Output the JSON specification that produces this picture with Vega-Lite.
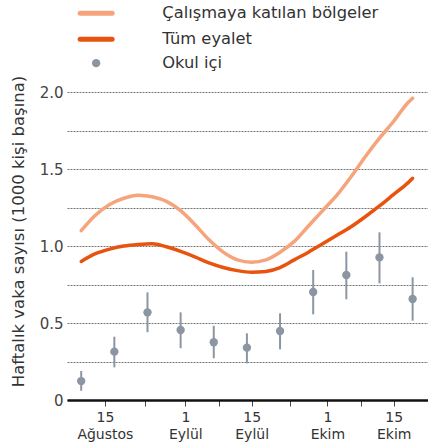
{
  "$schema": "https://vega.github.io/schema/vega-lite/v6.json",
  "autosize": "none",
  "width": 361,
  "height": 308,
  "padding": {"left": 67, "top": 92, "right": 0, "bottom": 48},
  "background": "white",
  "config": {
    "view": {"stroke": null},
    "font": "DejaVu Sans",
    "axisY": {
      "titleFontSize": 16.5,
      "titleFontWeight": "normal",
      "titleColor": "#333333",
      "titlePadding": 13,
      "titleY": 139,
      "labelFontSize": 15,
      "labelColor": "#444444",
      "labelPadding": 4,
      "labelOverlap": false,
      "ticks": false,
      "tickSize": 0,
      "domain": false,
      "grid": true,
      "gridColor": "#777777",
      "gridDash": [2, 1],
      "gridWidth": 1
    }
  },
  "datasets": {
    "lines": [
      {"date": "2020-08-10T00:00", "series": "Çalışmaya katılan bölgeler", "value": 1.10},
      {"date": "2020-08-13T00:00", "series": "Çalışmaya katılan bölgeler", "value": 1.20},
      {"date": "2020-08-16T00:00", "series": "Çalışmaya katılan bölgeler", "value": 1.27},
      {"date": "2020-08-19T00:00", "series": "Çalışmaya katılan bölgeler", "value": 1.31},
      {"date": "2020-08-22T00:00", "series": "Çalışmaya katılan bölgeler", "value": 1.33},
      {"date": "2020-08-25T00:00", "series": "Çalışmaya katılan bölgeler", "value": 1.32},
      {"date": "2020-08-28T00:00", "series": "Çalışmaya katılan bölgeler", "value": 1.29},
      {"date": "2020-08-31T00:00", "series": "Çalışmaya katılan bölgeler", "value": 1.23},
      {"date": "2020-09-03T00:00", "series": "Çalışmaya katılan bölgeler", "value": 1.14},
      {"date": "2020-09-06T00:00", "series": "Çalışmaya katılan bölgeler", "value": 1.04},
      {"date": "2020-09-09T00:00", "series": "Çalışmaya katılan bölgeler", "value": 0.96},
      {"date": "2020-09-12T00:00", "series": "Çalışmaya katılan bölgeler", "value": 0.91},
      {"date": "2020-09-15T00:00", "series": "Çalışmaya katılan bölgeler", "value": 0.895},
      {"date": "2020-09-18T00:00", "series": "Çalışmaya katılan bölgeler", "value": 0.91},
      {"date": "2020-09-21T00:00", "series": "Çalışmaya katılan bölgeler", "value": 0.96},
      {"date": "2020-09-24T00:00", "series": "Çalışmaya katılan bölgeler", "value": 1.03},
      {"date": "2020-09-27T00:00", "series": "Çalışmaya katılan bölgeler", "value": 1.13},
      {"date": "2020-09-30T00:00", "series": "Çalışmaya katılan bölgeler", "value": 1.23},
      {"date": "2020-10-03T00:00", "series": "Çalışmaya katılan bölgeler", "value": 1.33},
      {"date": "2020-10-06T00:00", "series": "Çalışmaya katılan bölgeler", "value": 1.45},
      {"date": "2020-10-09T00:00", "series": "Çalışmaya katılan bölgeler", "value": 1.58},
      {"date": "2020-10-12T00:00", "series": "Çalışmaya katılan bölgeler", "value": 1.70},
      {"date": "2020-10-15T00:00", "series": "Çalışmaya katılan bölgeler", "value": 1.81},
      {"date": "2020-10-18T00:00", "series": "Çalışmaya katılan bölgeler", "value": 1.93},
      {"date": "2020-10-19T00:00", "series": "Çalışmaya katılan bölgeler", "value": 1.96},
      {"date": "2020-08-10T00:00", "series": "Tüm eyalet", "value": 0.90},
      {"date": "2020-08-13T00:00", "series": "Tüm eyalet", "value": 0.95},
      {"date": "2020-08-16T00:00", "series": "Tüm eyalet", "value": 0.98},
      {"date": "2020-08-19T00:00", "series": "Tüm eyalet", "value": 1.00},
      {"date": "2020-08-22T00:00", "series": "Tüm eyalet", "value": 1.01},
      {"date": "2020-08-25T00:00", "series": "Tüm eyalet", "value": 1.015},
      {"date": "2020-08-28T00:00", "series": "Tüm eyalet", "value": 0.995},
      {"date": "2020-08-31T00:00", "series": "Tüm eyalet", "value": 0.965},
      {"date": "2020-09-03T00:00", "series": "Tüm eyalet", "value": 0.93},
      {"date": "2020-09-06T00:00", "series": "Tüm eyalet", "value": 0.89},
      {"date": "2020-09-09T00:00", "series": "Tüm eyalet", "value": 0.86},
      {"date": "2020-09-12T00:00", "series": "Tüm eyalet", "value": 0.84},
      {"date": "2020-09-15T00:00", "series": "Tüm eyalet", "value": 0.83},
      {"date": "2020-09-18T00:00", "series": "Tüm eyalet", "value": 0.835},
      {"date": "2020-09-21T00:00", "series": "Tüm eyalet", "value": 0.86},
      {"date": "2020-09-24T00:00", "series": "Tüm eyalet", "value": 0.91},
      {"date": "2020-09-27T00:00", "series": "Tüm eyalet", "value": 0.96},
      {"date": "2020-09-30T00:00", "series": "Tüm eyalet", "value": 1.015},
      {"date": "2020-10-03T00:00", "series": "Tüm eyalet", "value": 1.07},
      {"date": "2020-10-06T00:00", "series": "Tüm eyalet", "value": 1.125},
      {"date": "2020-10-09T00:00", "series": "Tüm eyalet", "value": 1.19},
      {"date": "2020-10-12T00:00", "series": "Tüm eyalet", "value": 1.26},
      {"date": "2020-10-15T00:00", "series": "Tüm eyalet", "value": 1.335},
      {"date": "2020-10-18T00:00", "series": "Tüm eyalet", "value": 1.41},
      {"date": "2020-10-19T00:00", "series": "Tüm eyalet", "value": 1.44}
    ],
    "school": [
      {"date": "2020-08-10T00:00", "series": "Okul içi", "value": 0.123, "lo": 0.06, "hi": 0.188},
      {"date": "2020-08-17T00:00", "series": "Okul içi", "value": 0.314, "lo": 0.212, "hi": 0.411},
      {"date": "2020-08-24T00:00", "series": "Okul içi", "value": 0.569, "lo": 0.44, "hi": 0.699},
      {"date": "2020-08-31T00:00", "series": "Okul içi", "value": 0.455, "lo": 0.336, "hi": 0.569},
      {"date": "2020-09-07T00:00", "series": "Okul içi", "value": 0.375, "lo": 0.271, "hi": 0.482},
      {"date": "2020-09-14T00:00", "series": "Okul içi", "value": 0.34, "lo": 0.238, "hi": 0.433},
      {"date": "2020-09-21T00:00", "series": "Okul içi", "value": 0.448, "lo": 0.329, "hi": 0.563},
      {"date": "2020-09-28T00:00", "series": "Okul içi", "value": 0.701, "lo": 0.556, "hi": 0.844},
      {"date": "2020-10-05T00:00", "series": "Okul içi", "value": 0.812, "lo": 0.654, "hi": 0.963},
      {"date": "2020-10-12T00:00", "series": "Okul içi", "value": 0.926, "lo": 0.757, "hi": 1.089},
      {"date": "2020-10-19T00:00", "series": "Okul içi", "value": 0.656, "lo": 0.515, "hi": 0.797}
    ]
  },
  "encoding": {
    "x": {
      "field": "date",
      "type": "temporal",
      "scale": {"domain": [{"year": 2020, "month": 8, "date": 7}, {"year": 2020, "month": 10, "date": 22, "hours": 6}]},
      "axis": {
        "title": null,
        "values": [
          {"year": 2020, "month": 8, "date": 15},
          {"year": 2020, "month": 8, "date": 23, "hours": 12},
          {"year": 2020, "month": 9, "date": 1},
          {"year": 2020, "month": 9, "date": 8},
          {"year": 2020, "month": 9, "date": 15},
          {"year": 2020, "month": 9, "date": 23},
          {"year": 2020, "month": 10, "date": 1},
          {"year": 2020, "month": 10, "date": 8},
          {"year": 2020, "month": 10, "date": 15}
        ],
        "labelExpr": "(date(datum.value) == 1 || date(datum.value) == 15) && hours(datum.value) == 0 ? [date(datum.value) + '', month(datum.value) == 7 ? 'Ağustos' : (month(datum.value) == 8 ? 'Eylül' : 'Ekim')] : ''",
        "grid": false,
        "domainColor": "#111111",
        "domainWidth": 2.5,
        "tickColor": "#444444",
        "tickSize": 6,
        "tickWidth": 1,
        "labelFontSize": 14,
        "labelColor": "#333333",
        "labelLineHeight": 17,
        "labelPadding": 4,
        "labelAngle": 0,
        "labelFlush": false,
        "labelOverlap": false
      }
    }
  },
  "layer": [
    {
      "data": {"name": "lines"},
      "mark": {"type": "line", "interpolate": "monotone", "strokeWidth": 3.5, "strokeCap": "round"},
      "encoding": {
        "y": {
          "field": "value",
          "type": "quantitative",
          "scale": {"domain": [0, 2]},
          "axis": {
            "title": "Haftalık vaka sayısı (1000 kişi başına)",
            "values": [0, 0.25, 0.5, 0.75, 1, 1.25, 1.5, 1.75, 2],
            "labelExpr": "datum.value == 0 ? '0' : (datum.value * 2 == round(datum.value * 2) ? format(datum.value, '.1f') : '')"
          }
        },
        "color": {
          "field": "series",
          "type": "nominal",
          "scale": {
            "domain": ["Çalışmaya katılan bölgeler", "Tüm eyalet", "Okul içi"],
            "range": ["#f5a47c", "#e8540f", "#8c96a2"]
          },
          "legend": {
            "title": null,
            "orient": "none",
            "legendX": 21,
            "legendY": -87,
            "symbolType": "stroke",
            "symbolSize": 1024,
            "symbolStrokeWidth": 5,
            "labelOffset": 58,
            "labelFontSize": 16.3,
            "labelColor": "#333333",
            "rowPadding": 5,
            "labelLimit": 400,
            "encode": {
              "symbols": {
                "update": {
                  "shape": {"signal": "datum.value === 'Okul içi' ? 'circle' : 'stroke'"},
                  "size": {"signal": "datum.value === 'Okul içi' ? 70 : 1024"},
                  "strokeWidth": {"signal": "datum.value === 'Okul içi' ? 0 : 5"},
                  "stroke": {"signal": "scale('color', datum.value)"},
                  "fill": {"signal": "datum.value === 'Okul içi' ? scale('color', datum.value) : 'transparent'"},
                  "strokeCap": {"value": "round"},
                  "opacity": {"value": 1}
                }
              }
            }
          }
        }
      }
    },
    {
      "data": {"name": "school"},
      "mark": {"type": "rule", "strokeWidth": 2, "color": "#8c96a2"},
      "encoding": {
        "y": {
          "field": "lo",
          "type": "quantitative",
          "axis": {
            "title": "Haftalık vaka sayısı (1000 kişi başına)",
            "values": [0, 0.25, 0.5, 0.75, 1, 1.25, 1.5, 1.75, 2],
            "labelExpr": "datum.value == 0 ? '0' : (datum.value * 2 == round(datum.value * 2) ? format(datum.value, '.1f') : '')"
          }
        },
        "y2": {"field": "hi"}
      }
    },
    {
      "data": {"name": "school"},
      "mark": {"type": "point", "filled": true, "size": 70, "opacity": 1},
      "encoding": {
        "y": {
          "field": "value",
          "type": "quantitative",
          "axis": {
            "title": "Haftalık vaka sayısı (1000 kişi başına)",
            "values": [0, 0.25, 0.5, 0.75, 1, 1.25, 1.5, 1.75, 2],
            "labelExpr": "datum.value == 0 ? '0' : (datum.value * 2 == round(datum.value * 2) ? format(datum.value, '.1f') : '')"
          }
        },
        "color": {"field": "series", "type": "nominal"}
      }
    }
  ]
}
